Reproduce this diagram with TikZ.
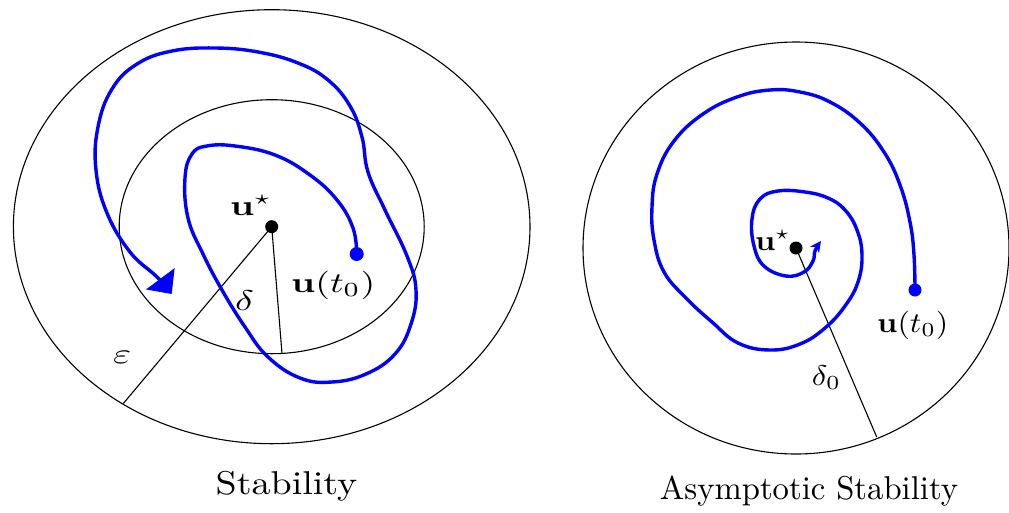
\documentclass[tikz,border=0pt]{standalone}
\usetikzlibrary{arrows.meta}
\begin{document}
\begin{tikzpicture}[x=1pt,y=-1pt,
  thinline/.style={line width=1.1pt, black},
  traj/.style={blue, line width=3.4pt, line cap=round, line join=round},
  bdot/.style={circle, fill=black, inner sep=0pt, minimum size=13pt},
  udot/.style={circle, fill=blue, inner sep=0pt, minimum size=14pt},
  lab/.style={inner sep=0pt, anchor=base west},
  captxt/.style={inner sep=0pt, anchor=base}]
\useasboundingbox (0,0) rectangle (1009,512);
% ---------------- left: stability
\coordinate (lc) at (271.7,226.7);
\draw[thinline] (lc) ellipse [x radius=258.3pt, y radius=217pt];
\draw[thinline] (lc) ellipse [x radius=152.5pt, y radius=127pt];
\coordinate (ld) at (282,353.5);
\coordinate (le) at (123.3,403.5);
\draw[thinline] (lc) -- (ld);
\draw[thinline] (lc) -- (le);
\draw[traj, -{Triangle[length=19pt,width=35pt]}] plot[smooth, tension=0.7] coordinates {
 (356.7,254) (353,228) (337,200) (310,175) (275,155) (235,146) (207,146)
 (192,154) (185,178) (188,218) (203,254) (222,290) (245,327) (268,357)
 (300,378) (332,382) (366,374) (395,354) (411,324) (416,290) (407,256)
 (385,210) (368,172) (362,137) (350,106) (328,80) (298,63) (258,52)
 (215,48) (172,51) (137,64) (112,89) (98,127) (96,170) (107,213)
 (130,252) (157,277) (171.7,294)};
\node[bdot] (lsdot) at (lc) {};
\node[udot] (lu0) at (356.7,254) {};
\node[lab] (lus) at (230,215) {\scalebox{3.78}[2.85]{$\mathbf{u}^\star$}};
\node[lab] (lut) at (291,292) {\scalebox{3.78}[2.85]{$\mathbf{u}(t_0)$}};
\node[lab] (ldl) at (235,310) {\scalebox{3.9}[2.85]{$\delta$}};
\node[lab] (lep) at (113,363) {\scalebox{3.9}[2.85]{$\varepsilon$}};
\node[captxt] (lcap) at (286.5,494) {\scalebox{3.8}[3.3]{Stability}};
% ---------------- right: asymptotic stability
\coordinate (rc) at (796,248);
\draw[thinline] (rc) ellipse [x radius=213pt, y radius=206pt];
\coordinate (rd) at (876.7,437);
\draw[thinline] (rc) -- (rd);
\draw[traj, -{Stealth[length=11pt,width=11pt]}] plot[smooth, tension=0.7] coordinates {
 (915,290) (914,255) (910,222) (900,185) (884,152) (860,123) (830,102)
 (800,92) (770,90) (737,97) (703,114) (674,141) (657,174) (652,207)
 (654,240) (664,272) (686,298) (712,322) (738,343) (770,350) (800,344)
 (825,328) (845,306) (858,282) (862,255) (857,230) (845,210) (828,198)
 (805,192) (778,191) (760,199) (752,219) (754,246) (764,266) (786,276)
 (804,272) (813,261) (815,251) (821,241)};
\node[bdot] (rsdot) at (rc) {};
\node[udot, minimum size=13pt] (ru0) at (915,290) {};
\node[lab] (rus) at (755,250) {\scalebox{3.19}[2.85]{$\mathbf{u}^\star$}};
\node[lab] (rut) at (877,332) {\scalebox{3.19}[2.85]{$\mathbf{u}(t_0)$}};
\node[lab] (rdl) at (811.7,385) {\scalebox{3.24}[2.85]{$\delta_0$}};
\node[captxt] (rcap) at (809,499) {\scalebox{3.27}[3.3]{Asymptotic Stability}};
\end{tikzpicture}
\end{document}
